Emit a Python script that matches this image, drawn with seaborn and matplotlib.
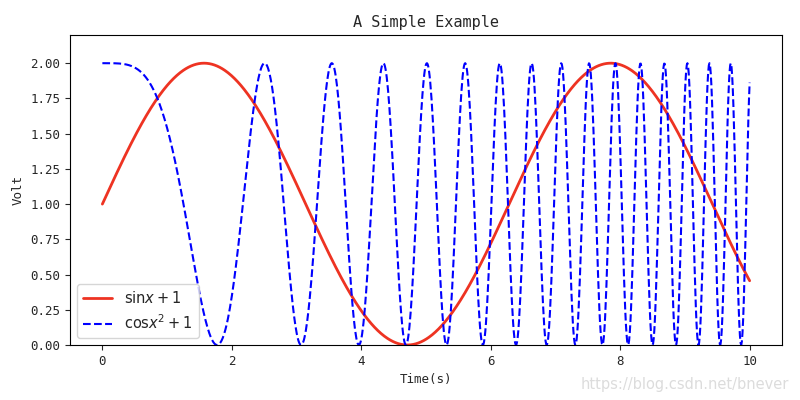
import numpy as np
import matplotlib
matplotlib.use("Agg")
import matplotlib.pyplot as plt
import seaborn as sns
import pandas as pd

# The legend states the plotted functions: sin(x)+1 and cos(x^2)+1 on x in [0, 10]
x_start, x_stop, n_points = 0.0, 10.0, 1000
x = np.linspace(x_start, x_stop, n_points)
sin_values = np.sin(x) + 1
cos_values = np.cos(x ** 2) + 1
series_labels = ["$\\mathrm{sin}x + 1$", "$\\mathrm{cos}x^2 + 1$"]
title = "A Simple Example"
xlabel = "Time(s)"
ylabel = "Volt"
y_ticks = [0.0, 0.25, 0.5, 0.75, 1.0, 1.25, 1.5, 1.75, 2.0]
x_ticks = [0, 2, 4, 6, 8, 10]

sns.set_style("ticks")
plt.rcParams["font.family"] = ["DejaVu Sans Mono", "DejaVu Sans"]
plt.rcParams["axes.unicode_minus"] = False

fig, ax = plt.subplots(figsize=(8, 4), dpi=100)
df = pd.DataFrame({"x": x, "s": sin_values, "c": cos_values})
sns.lineplot(data=df, x="x", y="s", ax=ax, color="#ee3322", linewidth=2, label=series_labels[0])
sns.lineplot(data=df, x="x", y="c", ax=ax, color="blue", linewidth=1.5, linestyle="--", label=series_labels[1])

ax.set_ylim(0, 2.2)
ax.set_yticks(y_ticks)
ax.set_yticklabels([f"{v:.2f}" for v in y_ticks])
ax.set_xticks(x_ticks)
ax.tick_params(labelsize=9)
ax.set_title(title, fontsize=11)
ax.set_xlabel(xlabel, fontsize=9)
ax.set_ylabel(ylabel, fontsize=9)
for sp in ax.spines.values():
    sp.set_visible(True)
    sp.set_color("black")
ax.legend(loc="lower left", fontsize=10.5)
fig.subplots_adjust(left=0.0875, right=0.9775, top=0.9125, bottom=0.1375)
fig.text(0.986, 0.02, "https://blog.csdn.net/bnever", ha="right", va="bottom",
         color="#dcdcdc", fontsize=10.5, family=["DejaVu Sans"])
fig.savefig("out.png", dpi=100)
